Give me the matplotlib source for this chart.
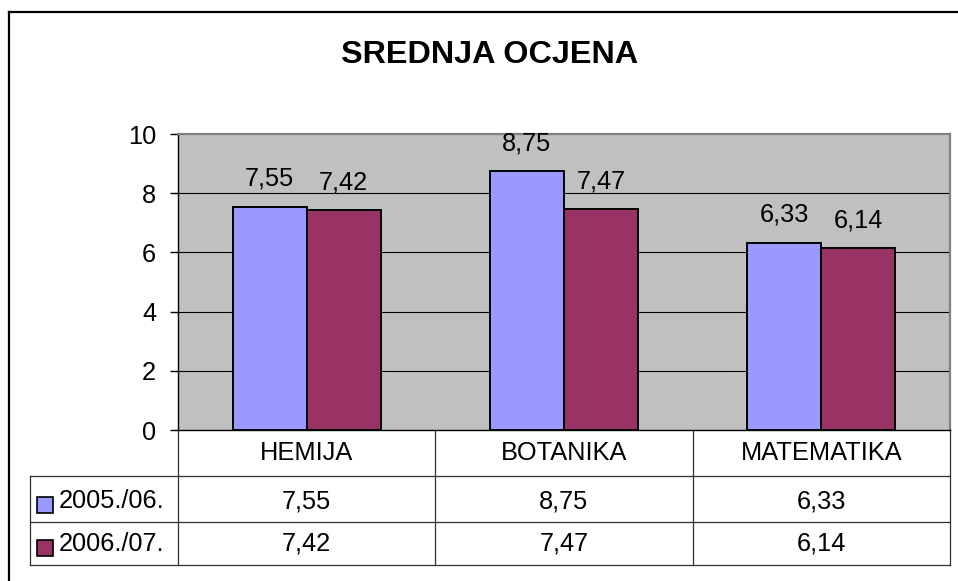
import matplotlib
matplotlib.use("Agg")
import matplotlib.pyplot as plt
from matplotlib.patches import Rectangle
from matplotlib.lines import Line2D
from matplotlib.transforms import blended_transform_factory
import numpy as np

plt.rcParams['font.family'] = ['Liberation Sans', 'DejaVu Sans']

title = "SREDNJA OCJENA"
categories = ["HEMIJA", "BOTANIKA", "MATEMATIKA"]
series_names = ["2005./06.", "2006./07."]
values_0506 = [7.55, 8.75, 6.33]
values_0607 = [7.42, 7.47, 6.14]
series_values = [values_0506, values_0607]
colors = ["#9999FF", "#993366"]
yticks = [0, 2, 4, 6, 8, 10]

W, H = 958, 581
fig = plt.figure(figsize=(W / 100, H / 100), dpi=100)
fig.patch.set_facecolor("white")

# overlay in pixel coordinates (for frame/table lines)
ov = fig.add_axes([0, 0, 1, 1], zorder=0)
ov.set_xlim(0, W)
ov.set_ylim(H, 0)
ov.axis("off")

L, R, T, B = 178, 950, 134, 430
ax = fig.add_axes([L / W, 1 - B / H, (R - L) / W, (B - T) / H], zorder=1)
ax.set_facecolor("#C0C0C0")

fs = 18.3
n = len(categories)
x = np.arange(n)
bw = 0.2876
for i, vals in enumerate(series_values):
    off = (i - 0.5) * bw
    ax.bar(x + off, vals, width=bw, color=colors[i], edgecolor="black",
           linewidth=1.4, zorder=3)
    for xi, v in zip(x + off, vals):
        ax.annotate(f"{v:.2f}".replace(".", ","), (xi, v), xytext=(0, 15),
                    textcoords="offset points", ha="center", va="baseline",
                    fontsize=fs, zorder=4)

ax.set_xlim(-0.5, n - 0.5)
ax.set_ylim(0, 10)
ax.set_yticks(yticks)
ax.set_yticklabels([str(t) for t in yticks], fontsize=fs)
ax.set_xticks([])
ax.tick_params(axis="y", direction="out", length=5.8, width=1, pad=10)
for yv in yticks[1:-1]:
    ax.axhline(yv, color="black", linewidth=0.8, zorder=1)
ax.spines["left"].set_color("black")
ax.spines["bottom"].set_color("black")
ax.spines["left"].set_linewidth(1.0)
ax.spines["bottom"].set_linewidth(1.0)
ax.spines["top"].set_color("#808080")
ax.spines["right"].set_color("#808080")
ax.spines["top"].set_linewidth(1.6)
ax.spines["right"].set_linewidth(1.6)

# title
ov.text(490, 63, title, ha="center", va="baseline", fontsize=23.3,
        fontweight="bold")

# outer frame (left & top, other edges beyond image)
ov.add_line(Line2D([9, 9], [12, H + 5], color="black", linewidth=1.6))
ov.add_line(Line2D([9, W + 5], [12, 12], color="black", linewidth=1.6))

# data table
bt = blended_transform_factory(ax.transData, ov.transData)
tc = "#303030"
tlw = 0.9
row_y = [430, 476, 522, 565]
for xb in np.arange(n + 1) - 0.5:
    ov.add_line(Line2D([xb, xb], [row_y[0], row_y[-1]], transform=bt,
                       color=tc, linewidth=tlw))
ov.add_line(Line2D([30, 30], [row_y[1], row_y[-1]], color=tc, linewidth=tlw))
for yy in row_y[1:]:
    ov.add_line(Line2D([30, R], [yy, yy], color=tc, linewidth=tlw))

for xi, c in zip(x, categories):
    ov.text(xi, 460, c, transform=bt, ha="center", va="baseline", fontsize=fs)

row_base = [508, 551]
sq_top = [497, 540]
for i, vals in enumerate(series_values):
    ov.add_patch(Rectangle((37, sq_top[i]), 16, 16, facecolor=colors[i],
                           edgecolor="black", linewidth=1.2))
    ov.text(59, row_base[i], series_names[i], ha="left", va="baseline",
            fontsize=fs)
    for xi, v in zip(x, vals):
        ov.text(xi, row_base[i], f"{v:.2f}".replace(".", ","), transform=bt,
                ha="center", va="baseline", fontsize=fs)

fig.savefig("out.png", dpi=100, facecolor="white")
